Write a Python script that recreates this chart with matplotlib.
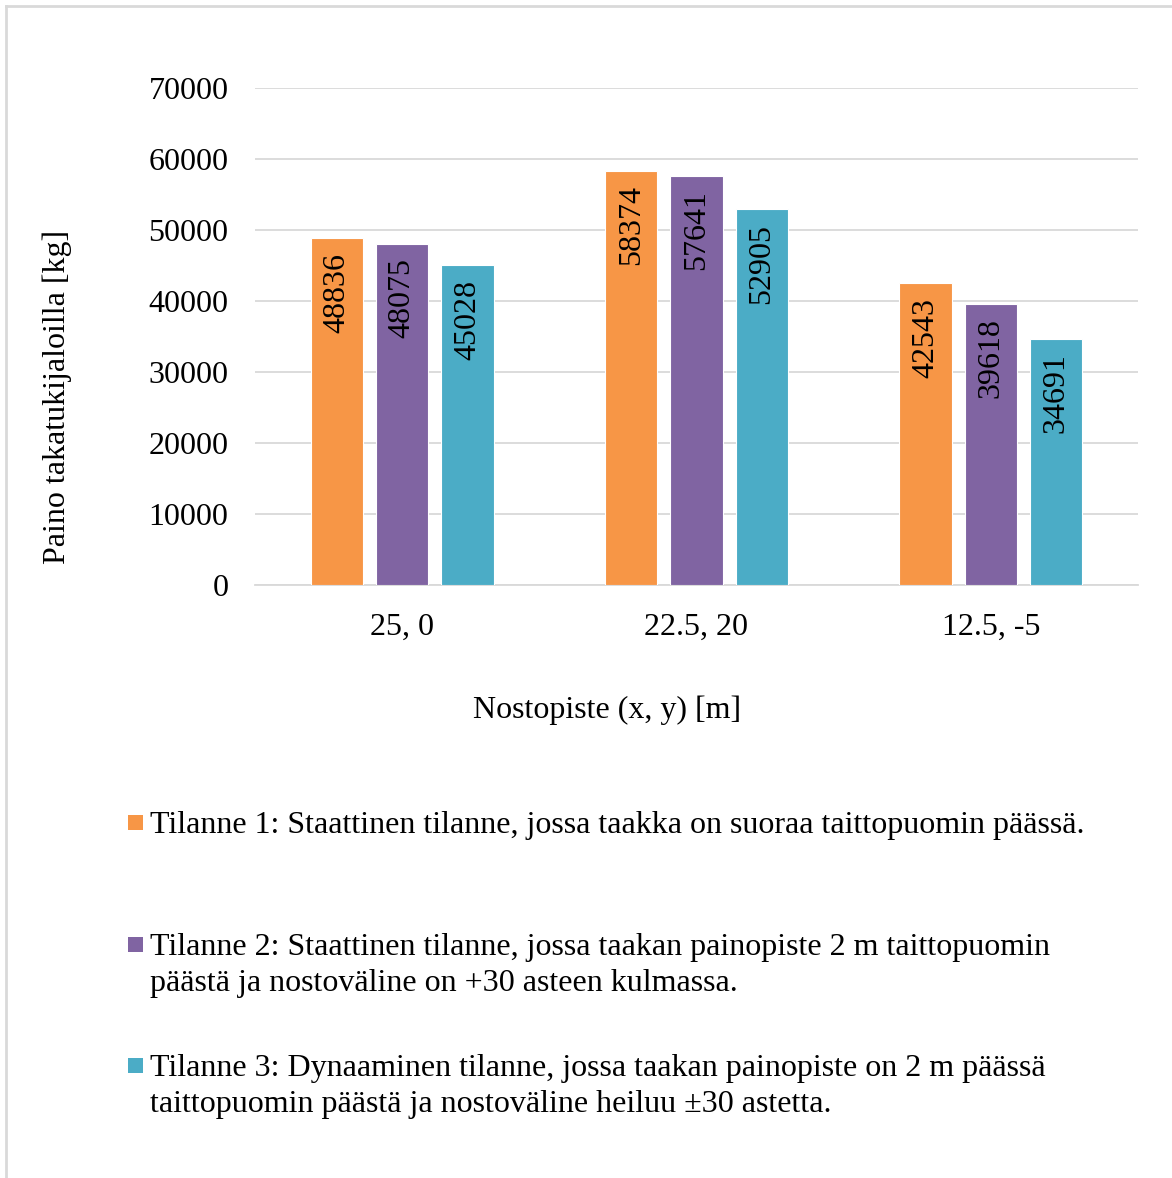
import numpy as np
import matplotlib.pyplot as plt
from matplotlib.patches import Rectangle
from matplotlib.lines import Line2D

# ---- data ----
categories = ["25, 0", "22.5, 20", "12.5, -5"]
tilanne_1 = [48836, 58374, 42543]
tilanne_2 = [48075, 57641, 39618]
tilanne_3 = [45028, 52905, 34691]
series_labels = [
    "Tilanne 1: Staattinen tilanne, jossa taakka on suoraa taittopuomin päässä.",
    "Tilanne 2: Staattinen tilanne, jossa taakan painopiste 2 m taittopuomin\npäästä ja nostoväline on +30 asteen kulmassa.",
    "Tilanne 3: Dynaaminen tilanne, jossa taakan painopiste on 2 m päässä\ntaittopuomin päästä ja nostoväline heiluu ±30 astetta.",
]
colors = ["#F79646", "#8064A2", "#4BACC6"]

plt.rcParams["font.family"] = ["Liberation Serif", "DejaVu Serif"]
FS = 23

W, H = 1172, 1178
fig = plt.figure(figsize=(W / 100, H / 100), dpi=100)

# plot area in pixels: left 255, right 1138, top 88 (70000), bottom 585 (0)
ax = fig.add_axes([255 / W, 1 - 585 / H, (1138 - 255) / W, (585 - 88) / H])

x = np.arange(len(categories))
pitch = 0.222
width = 0.177
for i, vals in enumerate([tilanne_1, tilanne_2, tilanne_3]):
    xs = x + (i - 1) * pitch
    ax.bar(xs, vals, width, color=colors[i],
           edgecolor="white", linewidth=0.8, zorder=3)
    # value labels inside the top of each bar, rotated
    for xi, v in zip(xs, vals):
        ax.annotate(str(v), (xi, v), xytext=(0, -10.5), textcoords="offset points",
                    rotation=90, ha="center", va="top", fontsize=FS, zorder=4)

ax.set_xlim(-0.5, 2.5)
ax.set_ylim(0, 70000)
ax.set_yticks(np.arange(0, 70001, 10000))
ax.set_xticks(x)
ax.set_xticklabels(categories)
ax.grid(axis="y", color="#D9D9D9", linewidth=1.3, zorder=0)
for s in ["top", "right", "left"]:
    ax.spines[s].set_visible(False)
ax.spines["bottom"].set_color("#D9D9D9")
ax.spines["bottom"].set_linewidth(1.3)
ax.tick_params(axis="both", length=0, labelsize=FS)
ax.tick_params(axis="x", pad=20)
ax.tick_params(axis="y", pad=19)

fig.text(57 / W, 1 - 397 / H, "Paino takatukijaloilla [kg]", rotation=90,
         ha="center", va="center", fontsize=FS)
fig.text(607 / W, 1 - 710 / H, "Nostopiste (x, y) [m]",
         ha="center", va="center", fontsize=FS)

# legend entries
legend_y = [822, 944, 1065]
for lbl, c, y in zip(series_labels, colors, legend_y):
    fig.patches.append(Rectangle((128 / W, 1 - (y + 8) / H), 15 / W, 15 / H,
                                 transform=fig.transFigure, facecolor=c,
                                 edgecolor="none"))
    fig.text(150 / W, 1 - (y - 11) / H, lbl, ha="left", va="top",
             fontsize=FS, linespacing=1.32)

# chart border (top and left)
fig.add_artist(Line2D([6 / W, 1], [1 - 6 / H, 1 - 6 / H], color="#D9D9D9",
                      linewidth=2, transform=fig.transFigure))
fig.add_artist(Line2D([6 / W, 6 / W], [0, 1 - 6 / H], color="#D9D9D9",
                      linewidth=2, transform=fig.transFigure))

fig.savefig("out.png", dpi=100, facecolor="white")
